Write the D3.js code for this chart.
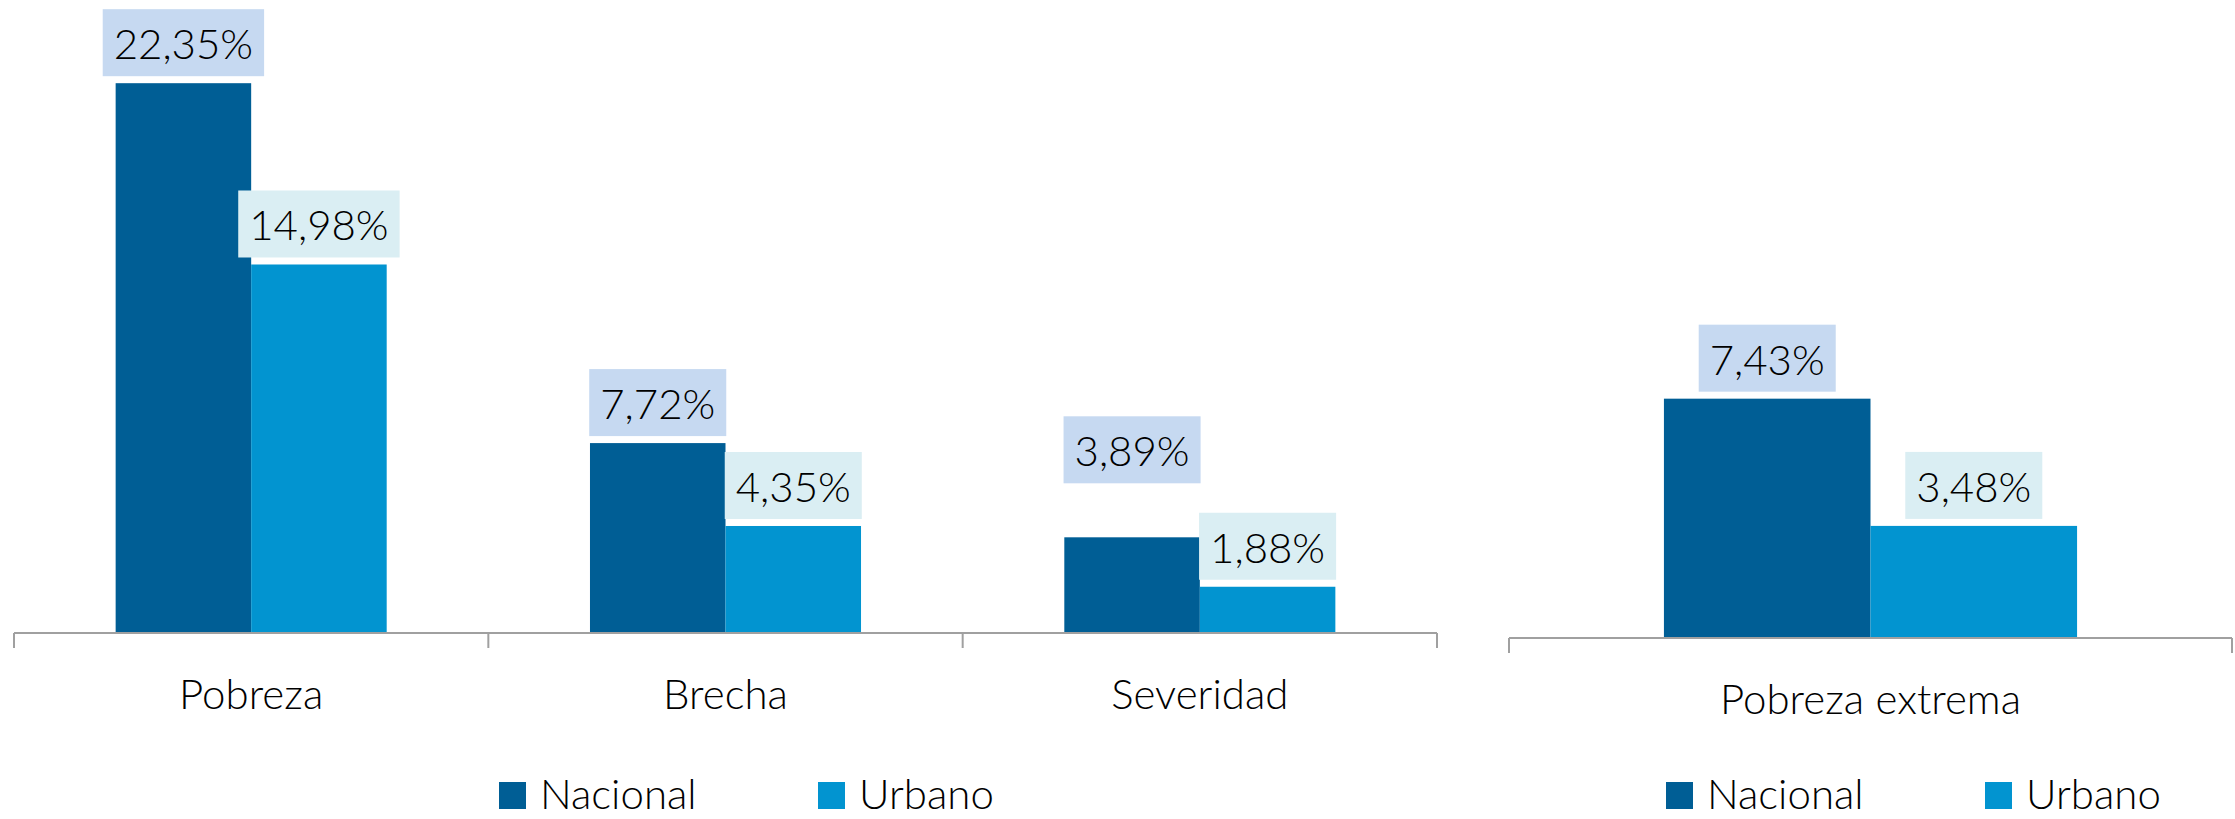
<!DOCTYPE html>
<html>
<head>
<meta charset="utf-8">
<script src="https://cdn.jsdelivr.net/npm/d3@7"></script>
<style>
  body { margin: 0; background: #fff; }
  svg text { font-family: Lato, "Open Sans", sans-serif; font-weight: 300; fill: #000; }
</style>
</head>
<body>
<div id="chart"></div>
<script>
// data
var series = ["Nacional", "Urbano"];
var leftCats = ["Pobreza", "Brecha", "Severidad"];
var leftNacional = [22.35, 7.72, 3.89];
var leftUrbano = [14.98, 4.35, 1.88];
var rightCats = ["Pobreza extrema"];
var rightNacional = [7.43];
var rightUrbano = [3.48];

var w = 2235, h = 819;
var colors = { Nacional: "#005E95", Urbano: "#0294D0" };
var boxColors = { Nacional: "#C6D9F1", Urbano: "#DAEEF3" };
var fontSize = 42;

var svg = d3.select("#chart").append("svg")
  .attr("width", w)
  .attr("height", h);

// draws one clustered bar panel
function panel(opt) {
  var rows = opt.cats.map(function (c, i) {
    return { cat: c, Nacional: opt.nac[i], Urbano: opt.urb[i] };
  });

  var x0 = d3.scaleBand().domain(opt.cats).range([opt.x0, opt.x1]);
  var x1 = d3.scaleBand().domain(series)
    .range([0, x0.bandwidth()])
    .paddingInner(0)
    .paddingOuter(0.75);
  var y = d3.scaleLinear().domain([0, opt.ymax]).range([opt.base, opt.top]);

  var g = svg.append("g");

  var groups = g.selectAll("g.cat")
    .data(rows)
    .enter().append("g")
    .attr("class", "cat")
    .attr("transform", function (d) { return "translate(" + x0(d.cat) + ",0)"; });

  groups.selectAll("rect.bar")
    .data(function (d) { return series.map(function (s) { return { s: s, v: d[s], cat: d.cat }; }); })
    .enter().append("rect")
    .attr("class", "bar")
    .attr("x", function (d) { return x1(d.s); })
    .attr("width", x1.bandwidth())
    .attr("y", function (d) { return y(d.v); })
    .attr("height", function (d) { return y(0) - y(d.v); })
    .attr("fill", function (d) { return colors[d.s]; });

  // axis line + ticks at category boundaries
  g.append("line")
    .attr("x1", opt.x0).attr("x2", opt.x1)
    .attr("y1", opt.base).attr("y2", opt.base)
    .attr("stroke", "#A0A0A0").attr("stroke-width", 2);
  var bounds = opt.cats.map(function (c) { return x0(c); }).concat([opt.x1]);
  g.selectAll("line.tick")
    .data(bounds)
    .enter().append("line")
    .attr("class", "tick")
    .attr("x1", function (d) { return d; }).attr("x2", function (d) { return d; })
    .attr("y1", opt.base).attr("y2", opt.base + 15)
    .attr("stroke", "#A0A0A0").attr("stroke-width", 2);

  // category labels via axis
  var ax = g.append("g")
    .attr("transform", "translate(0," + opt.base + ")")
    .call(d3.axisBottom(x0).tickSize(0).tickPadding(0));
  ax.select(".domain").remove();
  ax.selectAll("text")
    .attr("dy", null)
    .attr("y", 76)
    .style("font-size", fontSize + "px")
    .style("font-family", "Lato, 'Open Sans', sans-serif")
    .style("font-weight", 300)
    .attr("fill", "#000");

  // data labels with boxes
  groups.each(function (d) {
    var grp = d3.select(this);
    series.forEach(function (s) {
      var cx = x1(s) + x1.bandwidth() / 2;
      var lift = (opt.lift && opt.lift[s] && opt.lift[s][d.cat]) || 0;
      var bottom = y(d[s]) - 7 - lift;
      var lg = grp.append("g");
      var bg = lg.append("rect");
      var t = lg.append("text")
        .attr("x", cx)
        .attr("y", bottom - 17)
        .attr("text-anchor", "middle")
        .style("font-size", fontSize + "px")
        .text(d3.format(".2f")(d[s]).replace(".", ",") + "%");
      var tw = t.node().getComputedTextLength();
      bg.attr("x", cx - tw / 2 - 11)
        .attr("width", tw + 22)
        .attr("y", bottom - 67)
        .attr("height", 67)
        .attr("fill", boxColors[s]);
    });
  });

  // legend
  var leg = svg.append("g");
  opt.legend.forEach(function (lx, i) {
    leg.append("rect")
      .attr("x", lx).attr("y", opt.legY - 27)
      .attr("width", 27).attr("height", 27)
      .attr("fill", colors[series[i]]);
    leg.append("text")
      .attr("x", lx + 41).attr("y", opt.legY)
      .style("font-size", fontSize + "px")
      .text(series[i]);
  });
}

panel({
  cats: leftCats, nac: leftNacional, urb: leftUrbano,
  x0: 14, x1: 1437, base: 633, top: 18, ymax: 25,
  lift: { Nacional: { "Severidad": 47 } },
  legend: [499, 818], legY: 809
});

panel({
  cats: rightCats, nac: rightNacional, urb: rightUrbano,
  x0: 1509, x1: 2232, base: 638, top: 26, ymax: 19,
  legend: [1666, 1985], legY: 809
});
</script>
</body>
</html>
